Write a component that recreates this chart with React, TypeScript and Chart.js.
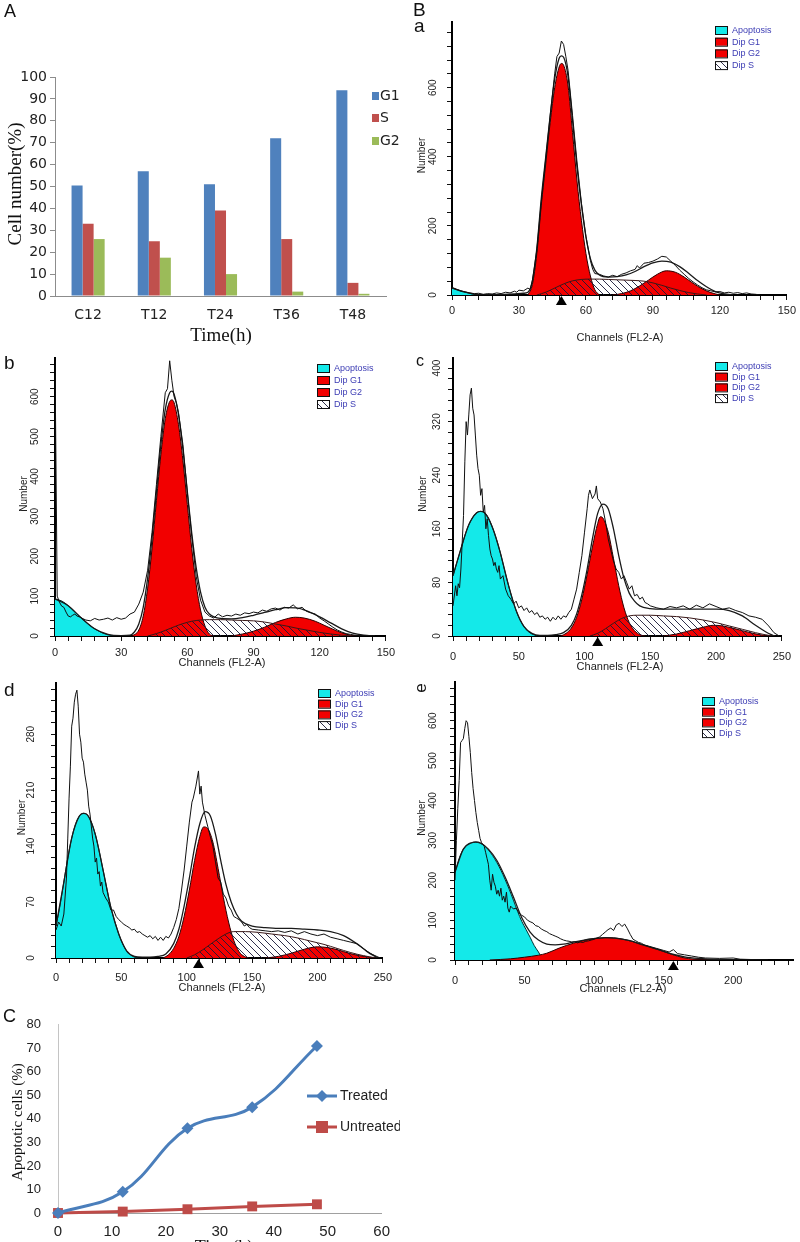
import React, { useEffect, useRef } from "react";
import { Chart, registerables } from "chart.js";

Chart.register(...registerables);
Chart.defaults.font.family = '"Liberation Sans", Arial, sans-serif';

type Pt = [number, number];

/* ---------------- Panel A : cell-cycle distribution ---------------- */
const cycleCategories = ["C12", "T12", "T24", "T36", "T48"];
const g1Percent = [50.5, 57, 51, 72, 94];
const sPercent = [33, 25, 39, 26, 6];
const g2Percent = [26, 17.5, 10, 2, 1];

/* ---------------- Panel C : apoptotic cells ---------------- */
const timeHours = [0, 12, 24, 36, 48];
const treatedApoptotic = [0, 9, 36, 45, 71];
const untreatedApoptotic = [0, 0.6, 1.6, 2.8, 3.7];

/* ---------------- Panel B histograms: [channel, number] ---------------- */
const aApoptosis: Pt[] = [[0, 20], [3, 14], [6, 8], [9, 3], [12, 0]];
const aDipG1: Pt[] = [[34, 0], [36, 30], [38, 120], [40, 260], [42, 380], [44, 500], [46, 600], [48, 660], [49, 670], [50, 665], [52, 605], [54, 470], [56, 330], [58, 215], [60, 120], [62, 55], [64, 15], [66, 0]];
const aDipG2: Pt[] = [[72, 0], [76, 4], [80, 12], [84, 26], [88, 43], [92, 60], [96, 70], [100, 66], [104, 52], [108, 34], [112, 18], [116, 7], [120, 0]];
const aDipS: Pt[] = [[38, 0], [42, 8], [46, 20], [50, 32], [54, 41], [58, 45], [62, 46], [66, 46], [70, 45], [74, 44], [78, 43], [82, 42], [86, 40], [90, 35], [94, 28], [98, 20], [102, 13], [106, 7], [110, 3], [114, 0]];
const aFit: Pt[] = [[0, 20], [6, 8], [12, 1], [20, 1], [28, 3], [32, 5], [34, 8], [36, 40], [38, 135], [40, 280], [42, 400], [44, 520], [46, 625], [48, 685], [49, 692], [50, 688], [52, 632], [54, 505], [56, 370], [58, 260], [60, 168], [62, 105], [64, 72], [66, 58], [70, 52], [74, 53], [78, 58], [82, 68], [86, 82], [90, 93], [94, 98], [98, 95], [102, 82], [106, 63], [110, 42], [114, 24], [118, 10], [122, 3], [126, 0]];
const aRaw: Pt[] = [[0, 22], [2, 17], [4, 12], [6, 9], [8, 6], [10, 4], [12, 5], [14, 2], [16, 4], [18, 3], [20, 6], [22, 4], [24, 8], [26, 6], [28, 11], [29, 8], [30, 14], [32, 12], [34, 20], [35, 16], [36, 42], [38, 130], [40, 270], [42, 395], [44, 520], [46, 640], [47, 690], [48, 700], [49, 735], [50, 725], [51, 690], [52, 650], [54, 520], [56, 385], [58, 265], [60, 170], [62, 100], [63, 75], [64, 62], [66, 60], [68, 55], [70, 52], [72, 57], [74, 53], [76, 60], [78, 64], [80, 70], [82, 74], [83, 85], [84, 78], [86, 92], [88, 94], [90, 98], [92, 104], [94, 112], [96, 110], [98, 98], [100, 86], [102, 72], [104, 60], [106, 48], [108, 38], [110, 29], [112, 21], [114, 15], [116, 12], [118, 9], [120, 10], [122, 6], [124, 8], [126, 5], [128, 7], [130, 4], [132, 6], [134, 3], [136, 2], [138, 0]];

const bApoptosis: Pt[] = [[0, 93], [3, 88], [6, 76], [9, 60], [12, 45], [15, 30], [18, 18], [21, 9], [24, 3], [27, 0]];
const bDipG1: Pt[] = [[35, 0], [38, 15], [40, 50], [42, 120], [44, 220], [46, 340], [48, 455], [50, 545], [52, 588], [53, 592], [54, 585], [56, 530], [58, 440], [60, 330], [62, 220], [64, 130], [66, 65], [68, 25], [70, 5], [72, 0]];
const bDipG2: Pt[] = [[80, 0], [85, 5], [90, 12], [95, 22], [100, 34], [105, 43], [109, 47], [113, 45], [118, 37], [122, 27], [126, 17], [130, 8], [134, 2], [137, 0]];
const bDipS: Pt[] = [[42, 0], [46, 6], [50, 14], [54, 23], [58, 31], [62, 37], [66, 40], [70, 41], [75, 41], [80, 40], [85, 39], [90, 38], [95, 35], [100, 30], [105, 25], [110, 19], [115, 14], [120, 9], [125, 5], [130, 2], [135, 0]];
const bFit: Pt[] = [[0, 93], [6, 76], [12, 45], [18, 18], [24, 4], [30, 1], [34, 2], [36, 10], [38, 30], [40, 72], [42, 145], [44, 245], [46, 362], [48, 478], [50, 568], [52, 610], [53, 614], [54, 606], [56, 555], [58, 468], [60, 362], [62, 258], [64, 172], [66, 110], [68, 72], [70, 55], [75, 44], [80, 43], [85, 46], [90, 52], [95, 59], [100, 66], [105, 71], [110, 70], [115, 61], [120, 48], [125, 33], [130, 18], [135, 7], [140, 2], [145, 0]];
const bRaw: Pt[] = [[0, 690], [1, 100], [2, 85], [3, 75], [4, 72], [5, 60], [6, 50], [7, 48], [8, 52], [9, 55], [10, 50], [11, 48], [12, 45], [14, 40], [16, 38], [18, 44], [20, 40], [22, 42], [24, 45], [26, 40], [28, 46], [30, 42], [32, 45], [34, 55], [36, 60], [38, 80], [40, 110], [42, 165], [44, 260], [46, 380], [48, 500], [50, 610], [51, 620], [52, 690], [53, 640], [54, 600], [55, 585], [56, 560], [58, 480], [60, 360], [62, 250], [64, 150], [66, 90], [68, 60], [70, 50], [72, 45], [74, 55], [76, 48], [78, 52], [80, 50], [82, 55], [84, 52], [86, 58], [88, 56], [90, 60], [92, 58], [94, 65], [96, 62], [98, 68], [100, 70], [102, 65], [104, 72], [106, 70], [108, 78], [110, 68], [112, 72], [114, 62], [116, 58], [118, 55], [120, 45], [122, 38], [124, 30], [126, 22], [128, 15], [130, 10], [132, 6], [134, 4], [136, 2], [140, 1], [145, 0]];

const cApoptosis: Pt[] = [[0, 90], [3, 110], [6, 130], [9, 150], [12, 166], [15, 177], [18, 184], [21, 186], [24, 184], [27, 176], [30, 162], [33, 145], [36, 124], [39, 100], [42, 77], [45, 56], [48, 38], [51, 24], [54, 14], [57, 7], [60, 3], [64, 0]];
const cDipG1: Pt[] = [[82, 0], [86, 4], [90, 12], [94, 28], [98, 55], [102, 92], [106, 133], [110, 168], [112, 178], [114, 176], [118, 155], [122, 116], [126, 75], [130, 42], [134, 20], [138, 8], [142, 2], [146, 0]];
const cDipG2: Pt[] = [[160, 0], [170, 3], [180, 8], [190, 13], [198, 16], [205, 15], [212, 12], [220, 8], [228, 4], [236, 1], [242, 0]];
const cDipS: Pt[] = [[104, 0], [110, 4], [116, 11], [122, 19], [128, 26], [134, 30], [140, 31], [150, 31], [160, 30], [170, 29], [180, 27], [190, 24], [200, 20], [210, 15], [220, 10], [230, 5], [240, 1], [245, 0]];
const cFit: Pt[] = [[0, 90], [6, 130], [12, 166], [18, 184], [21, 186], [24, 184], [30, 162], [36, 124], [42, 77], [48, 38], [54, 14], [60, 4], [66, 1], [72, 1], [78, 2], [84, 5], [90, 16], [94, 33], [98, 62], [102, 100], [106, 145], [110, 183], [114, 197], [118, 190], [122, 160], [126, 120], [130, 86], [134, 64], [138, 52], [142, 45], [150, 41], [160, 40], [170, 40], [180, 40], [190, 40], [200, 40], [210, 38], [220, 30], [230, 16], [238, 6], [244, 0]];
const cRaw: Pt[] = [[0, 45], [2, 75], [3, 60], [4, 78], [5, 72], [6, 100], [8, 180], [9, 260], [10, 320], [11, 300], [12, 330], [13, 360], [14, 370], [15, 340], [16, 330], [17, 300], [18, 270], [19, 250], [20, 240], [21, 210], [22, 220], [23, 185], [24, 195], [25, 160], [26, 175], [27, 150], [28, 130], [29, 120], [30, 115], [31, 105], [32, 110], [33, 100], [34, 95], [35, 105], [36, 85], [38, 90], [40, 70], [42, 60], [44, 55], [46, 48], [48, 52], [50, 42], [52, 45], [54, 38], [56, 42], [58, 35], [60, 38], [62, 32], [64, 35], [66, 28], [68, 30], [70, 25], [72, 28], [74, 22], [76, 28], [78, 24], [80, 30], [82, 25], [84, 30], [86, 28], [88, 35], [90, 40], [92, 55], [94, 70], [96, 95], [98, 120], [100, 155], [102, 190], [103, 210], [104, 218], [106, 205], [108, 212], [109, 224], [110, 205], [112, 200], [114, 190], [116, 170], [118, 145], [120, 128], [122, 112], [124, 100], [126, 95], [128, 85], [130, 90], [132, 80], [134, 70], [136, 75], [138, 60], [140, 62], [142, 55], [144, 58], [146, 50], [148, 48], [150, 45], [155, 42], [160, 40], [165, 44], [170, 42], [175, 45], [180, 40], [185, 46], [190, 42], [195, 48], [200, 44], [205, 40], [210, 42], [215, 38], [220, 35], [225, 30], [230, 28], [235, 25], [240, 15], [244, 5], [248, 0]];

const dApoptosis: Pt[] = [[0, 40], [3, 65], [6, 95], [9, 125], [12, 150], [15, 168], [18, 178], [21, 181], [24, 179], [27, 170], [30, 155], [33, 134], [36, 110], [39, 86], [42, 63], [45, 46], [48, 30], [51, 18], [54, 9], [57, 4], [60, 1], [63, 0]];
const dDipG1: Pt[] = [[82, 0], [86, 4], [90, 12], [94, 27], [98, 52], [102, 85], [106, 122], [110, 152], [113, 164], [116, 162], [120, 145], [124, 112], [128, 76], [132, 45], [136, 22], [140, 8], [144, 2], [148, 0]];
const dDipG2: Pt[] = [[160, 0], [170, 2], [180, 6], [190, 11], [200, 14], [208, 13], [216, 10], [224, 6], [232, 3], [240, 1], [244, 0]];
const dDipS: Pt[] = [[100, 0], [106, 4], [112, 10], [118, 17], [124, 24], [130, 30], [136, 33], [145, 33], [155, 32], [165, 30], [175, 28], [185, 25], [195, 21], [205, 17], [215, 12], [225, 7], [235, 3], [245, 0]];
const dFit: Pt[] = [[0, 40], [6, 95], [12, 150], [18, 178], [21, 181], [24, 179], [30, 155], [36, 110], [42, 63], [48, 30], [54, 9], [60, 2], [66, 1], [72, 1], [78, 2], [84, 5], [90, 18], [94, 36], [98, 65], [102, 100], [106, 138], [110, 168], [114, 183], [118, 178], [122, 155], [126, 122], [130, 92], [134, 70], [138, 55], [142, 46], [150, 40], [160, 38], [170, 37], [180, 37], [190, 36], [200, 35], [210, 33], [220, 28], [230, 18], [238, 8], [246, 0]];
const dRaw: Pt[] = [[0, 35], [2, 45], [4, 40], [6, 55], [8, 100], [9, 150], [10, 200], [11, 240], [12, 290], [13, 300], [14, 320], [15, 330], [16, 335], [17, 315], [18, 280], [19, 270], [20, 250], [21, 245], [22, 230], [23, 220], [24, 210], [25, 190], [26, 180], [27, 165], [28, 150], [29, 140], [30, 120], [31, 125], [32, 105], [33, 108], [34, 90], [35, 95], [36, 82], [38, 75], [40, 70], [42, 60], [44, 60], [46, 52], [48, 48], [50, 45], [52, 42], [54, 40], [56, 38], [58, 35], [60, 36], [62, 32], [64, 33], [66, 30], [68, 28], [70, 26], [72, 28], [74, 24], [76, 27], [78, 22], [80, 26], [82, 22], [84, 27], [86, 25], [88, 30], [90, 38], [92, 48], [94, 62], [96, 85], [98, 110], [100, 140], [102, 170], [104, 195], [105, 200], [107, 215], [109, 234], [110, 205], [111, 215], [112, 195], [114, 178], [116, 165], [118, 152], [120, 140], [122, 120], [124, 100], [126, 95], [128, 80], [130, 75], [132, 65], [134, 60], [136, 52], [138, 50], [140, 48], [142, 45], [144, 40], [146, 42], [148, 38], [150, 36], [155, 35], [160, 34], [165, 33], [170, 34], [175, 32], [180, 34], [185, 30], [190, 33], [195, 30], [200, 28], [205, 30], [210, 26], [215, 24], [220, 22], [225, 20], [230, 18], [235, 12], [240, 6], [244, 3], [248, 0]];

const eApoptosis: Pt[] = [[0, 220], [3, 255], [6, 278], [9, 290], [12, 294], [15, 295], [18, 293], [21, 287], [24, 276], [27, 262], [30, 245], [33, 225], [36, 202], [39, 177], [42, 150], [45, 122], [48, 97], [51, 77], [54, 57], [57, 36], [60, 20], [62, 8], [64, 0]];
const eDipG1: Pt[] = [[25, 0], [40, 3], [50, 7], [60, 12], [66, 17], [75, 30], [85, 42], [95, 51], [105, 55], [110, 56], [118, 54], [128, 46], [138, 35], [148, 24], [156, 14], [164, 6], [172, 2], [185, 0]];
const eDipG2: Pt[] = [];
const eDipS: Pt[] = [];
const eFit: Pt[] = [[0, 220], [6, 278], [12, 294], [15, 296], [18, 294], [24, 278], [30, 250], [36, 208], [42, 158], [48, 106], [54, 70], [60, 50], [66, 40], [72, 38], [78, 40], [84, 44], [90, 48], [96, 52], [102, 55], [108, 56], [115, 55], [125, 49], [135, 38], [145, 27], [155, 16], [165, 8], [175, 4], [190, 1], [205, 0]];
const eRaw: Pt[] = [[0, 200], [1, 300], [2, 380], [3, 450], [4, 545], [5, 550], [6, 555], [7, 580], [8, 600], [9, 595], [10, 560], [11, 520], [12, 470], [13, 430], [14, 400], [15, 370], [16, 345], [17, 325], [18, 305], [19, 295], [20, 290], [21, 285], [22, 270], [23, 255], [24, 240], [25, 200], [26, 175], [27, 215], [28, 195], [29, 185], [30, 165], [31, 175], [32, 160], [33, 180], [34, 150], [35, 160], [36, 145], [37, 170], [38, 130], [39, 120], [40, 135], [42, 128], [44, 130], [46, 118], [48, 112], [50, 108], [52, 100], [54, 96], [56, 93], [58, 86], [60, 84], [62, 78], [64, 74], [66, 71], [68, 66], [70, 63], [72, 60], [74, 57], [76, 53], [78, 50], [80, 48], [82, 47], [84, 45], [86, 46], [88, 43], [90, 45], [92, 44], [94, 47], [96, 48], [98, 50], [100, 52], [102, 55], [104, 58], [106, 64], [108, 70], [110, 76], [112, 80], [114, 74], [116, 88], [118, 92], [120, 84], [122, 90], [124, 78], [126, 64], [128, 52], [130, 48], [132, 44], [134, 42], [136, 38], [140, 34], [145, 29], [150, 24], [154, 20], [157, 26], [160, 16], [165, 13], [170, 10], [175, 7], [180, 5], [190, 4], [200, 5], [205, 2], [215, 1], [225, 0]];

const legendNames = ["Apoptosis", "Dip G1", "Dip G2", "Dip S"];

/* ---------------- styling ---------------- */
const CYAN = "#14e9e9";
const RED = "#f20000";
const LEGEND_TEXT = "#3c3cb4";
const SANS = '"Liberation Sans", Arial, sans-serif';
const WIDE = '"DejaVu Sans", "Liberation Sans", sans-serif';
const SERIF = '"Liberation Serif", "Times New Roman", serif';

type Box = { left: number; top: number; width: number; height: number };

function makeHatch(): any {
  const c = document.createElement("canvas");
  c.width = 7;
  c.height = 7;
  const g = c.getContext("2d");
  if (!g) return "rgba(0,0,0,0.2)";
  g.strokeStyle = "rgba(25,25,55,0.9)";
  g.lineWidth = 1;
  g.beginPath();
  g.moveTo(-1, -1);
  g.lineTo(8, 8);
  g.moveTo(-1, 6);
  g.lineTo(1, 8);
  g.moveTo(6, -1);
  g.lineTo(8, 1);
  g.stroke();
  return g.createPattern(c, "repeat") || "rgba(0,0,0,0.2)";
}

type HistSpec = {
  canvas: Box;
  area: { left: number; top: number; right: number; bottom: number };
  xMax: number; xStep: number; xMajor: number; xPad: number;
  yMax: number; yStep: number; yMajor: number;
  yLabelOff: number; numberOff: number;
  apop: Pt[]; g1: Pt[]; g2: Pt[]; s: Pt[]; fit: Pt[]; raw: Pt[];
  marker: number | null;
  legend: { x: number; y: number; dy: number };
  xTitle: { x: number; y: number };
  letters: { text: string; x: number; y: number; size: number; rotate?: boolean }[];
};

const histSpecs: HistSpec[] = [
  {
    canvas: { left: 400, top: 0, width: 400, height: 345 },
    area: { left: 452, top: 22, right: 787, bottom: 295 },
    xMax: 150, xStep: 6, xMajor: 30, xPad: 4,
    yMax: 790, yStep: 40, yMajor: 200, yLabelOff: 19, numberOff: 30,
    apop: aApoptosis, g1: aDipG1, g2: aDipG2, s: aDipS, fit: aFit, raw: aRaw,
    marker: 49,
    legend: { x: 715, y: 30, dy: 11.7 },
    xTitle: { x: 620, y: 338 },
    letters: [{ text: "B", x: 413, y: 11, size: 19 }, { text: "a", x: 414, y: 27, size: 19 }],
  },
  {
    canvas: { left: 0, top: 345, width: 400, height: 330 },
    area: { left: 55, top: 358, right: 387, bottom: 636 },
    xMax: 150, xStep: 6, xMajor: 30, xPad: 5,
    yMax: 697, yStep: 20, yMajor: 100, yLabelOff: 20, numberOff: 31,
    apop: bApoptosis, g1: bDipG1, g2: bDipG2, s: bDipS, fit: bFit, raw: bRaw,
    marker: null,
    legend: { x: 317, y: 368, dy: 12 },
    xTitle: { x: 222, y: 663 },
    letters: [{ text: "b", x: 4, y: 364, size: 19 }],
  },
  {
    canvas: { left: 400, top: 345, width: 400, height: 330 },
    area: { left: 453, top: 358, right: 786, bottom: 636 },
    xMax: 250, xStep: 10, xMajor: 50, xPad: 9,
    yMax: 415, yStep: 16, yMajor: 80, yLabelOff: 16, numberOff: 30,
    apop: cApoptosis, g1: cDipG1, g2: cDipG2, s: cDipS, fit: cFit, raw: cRaw,
    marker: 110,
    legend: { x: 715, y: 366, dy: 10.7 },
    xTitle: { x: 620, y: 667 },
    letters: [{ text: "c", x: 416, y: 362, size: 16 }],
  },
  {
    canvas: { left: 0, top: 675, width: 400, height: 325 },
    area: { left: 56, top: 683, right: 388, bottom: 958 },
    xMax: 250, xStep: 10, xMajor: 50, xPad: 8,
    yMax: 344, yStep: 14, yMajor: 70, yLabelOff: 25, numberOff: 34,
    apop: dApoptosis, g1: dDipG1, g2: dDipG2, s: dDipS, fit: dFit, raw: dRaw,
    marker: 109,
    legend: { x: 318, y: 693, dy: 10.7 },
    xTitle: { x: 222, y: 988 },
    letters: [{ text: "d", x: 4, y: 691, size: 19 }],
  },
  {
    canvas: { left: 400, top: 675, width: 400, height: 325 },
    area: { left: 455, top: 682, right: 793, bottom: 960 },
    xMax: 243, xStep: 10, xMajor: 50, xPad: 9,
    yMax: 697, yStep: 20, yMajor: 100, yLabelOff: 22, numberOff: 33,
    apop: eApoptosis, g1: eDipG1, g2: eDipG2, s: eDipS, fit: eFit, raw: eRaw,
    marker: 157,
    legend: { x: 702, y: 701, dy: 10.7 },
    xTitle: { x: 623, y: 989 },
    letters: [{ text: "e", x: 421, y: 688, size: 17, rotate: true }],
  },
];

function histDecor(spec: HistSpec, hatch: any) {
  const cv = spec.canvas;
  return {
    id: "histDecor",
    afterDraw(chart: any) {
      const ctx = chart.ctx;
      const ca = chart.chartArea;
      const ys = chart.scales.y;
      const xs = chart.scales.x;
      ctx.save();
      ctx.fillStyle = "#222";
      ctx.font = `10px ${SANS}`;
      ctx.textAlign = "center";
      ctx.textBaseline = "middle";
      ys.ticks
        .filter((t: any) => t.value % spec.yMajor === 0)
        .forEach((t: any) => {
          const py = ys.getPixelForValue(t.value);
          ctx.save();
          ctx.translate(ca.left - spec.yLabelOff, py);
          ctx.rotate(-Math.PI / 2);
          ctx.fillText(String(t.value), 0, 0);
          ctx.restore();
        });
      ctx.save();
      ctx.translate(ca.left - spec.numberOff, (ca.top + ca.bottom) / 2 - 3);
      ctx.rotate(-Math.PI / 2);
      ctx.fillText("Number", 0, 0);
      ctx.restore();
      ctx.font = `11px ${SANS}`;
      ctx.fillText("Channels (FL2-A)", spec.xTitle.x - cv.left, spec.xTitle.y - cv.top);
      if (spec.marker !== null) {
        const mx = xs.getPixelForValue(spec.marker);
        ctx.fillStyle = "#000";
        ctx.beginPath();
        ctx.moveTo(mx, ca.bottom + 1);
        ctx.lineTo(mx - 5.5, ca.bottom + 10);
        ctx.lineTo(mx + 5.5, ca.bottom + 10);
        ctx.closePath();
        ctx.fill();
      }
      const fills = [CYAN, RED, RED, "hatch"];
      legendNames.forEach((name, i) => {
        const bx = spec.legend.x - cv.left;
        const by = spec.legend.y - cv.top + i * spec.legend.dy;
        ctx.fillStyle = fills[i] === "hatch" ? "#fff" : fills[i];
        ctx.fillRect(bx, by - 4, 12, 8);
        if (fills[i] === "hatch") {
          ctx.fillStyle = hatch;
          ctx.fillRect(bx, by - 4, 12, 8);
        }
        ctx.strokeStyle = "#111";
        ctx.lineWidth = 1;
        ctx.strokeRect(bx + 0.5, by - 3.5, 12, 8);
        ctx.fillStyle = LEGEND_TEXT;
        ctx.font = `9px ${SANS}`;
        ctx.textAlign = "left";
        ctx.fillText(name, bx + 17, by + 0.5);
      });
      spec.letters.forEach((l) => {
        ctx.fillStyle = "#111";
        ctx.font = `${l.size}px ${SANS}`;
        ctx.textAlign = "left";
        ctx.textBaseline = "middle";
        if (l.rotate) {
          ctx.save();
          ctx.translate(l.x - cv.left, l.y - cv.top);
          ctx.rotate(-Math.PI / 2);
          ctx.textAlign = "center";
          ctx.fillText(l.text, 0, 0);
          ctx.restore();
        } else {
          ctx.fillText(l.text, l.x - cv.left, l.y - cv.top);
        }
      });
      ctx.restore();
    },
  };
}

function histConfig(spec: HistSpec): any {
  const cv = spec.canvas;
  const L = spec.area.left - cv.left;
  const R = spec.area.right - cv.left;
  const T = spec.area.top - cv.top;
  const B = spec.area.bottom - cv.top;
  const hatch = makeHatch();
  const xy = (a: Pt[]) => a.map(([x, y]) => ({ x, y }));
  const curve = (label: string, data: Pt[], extra: any) => ({
    label,
    data: xy(data),
    pointRadius: 0,
    borderWidth: 1,
    cubicInterpolationMode: "monotone",
    ...extra,
  });
  return {
    type: "line",
    data: {
      datasets: [
        curve("Data", spec.raw, { borderColor: "#111", fill: false, cubicInterpolationMode: "default", tension: 0, order: 1 }),
        curve("Fit", spec.fit, { borderColor: "#1a1a1a", borderWidth: 1.3, fill: false, order: 2 }),
        curve("Dip S", spec.s, { borderColor: "#3a1818", backgroundColor: hatch, fill: "origin", order: 3 }),
        curve("Dip G2", spec.g2, { borderColor: "#2a0000", backgroundColor: RED, fill: "origin", order: 4 }),
        curve("Dip G1", spec.g1, { borderColor: "#2a0000", backgroundColor: RED, fill: "origin", order: 5 }),
        curve("Apoptosis", spec.apop, { borderColor: "#003030", backgroundColor: CYAN, fill: "origin", order: 6 }),
      ],
    },
    options: {
      responsive: false,
      animation: false,
      events: [],
      layout: { padding: { left: 0, top: T, right: cv.width - R, bottom: 0 } },
      plugins: { legend: { display: false }, tooltip: { enabled: false } },
      scales: {
        x: {
          type: "linear",
          min: 0,
          max: spec.xMax,
          afterFit: (s: any) => { s.height = cv.height - B; },
          ticks: {
            stepSize: spec.xStep,
            autoSkip: false,
            includeBounds: false,
            maxRotation: 0,
            minRotation: 0,
            padding: spec.xPad,
            color: "#222",
            font: { size: 11 },
            callback: (v: any) => (Number(v) % spec.xMajor === 0 ? String(v) : ""),
          },
          grid: { display: true, drawOnChartArea: false, drawTicks: true, tickLength: 5, color: "#111", lineWidth: 1 },
          border: { display: true, color: "#000", width: 2 },
        },
        y: {
          type: "linear",
          min: 0,
          max: spec.yMax,
          afterFit: (s: any) => { s.width = L; },
          ticks: { stepSize: spec.yStep, display: false, includeBounds: false, autoSkip: false },
          grid: { display: true, drawOnChartArea: false, drawTicks: true, tickLength: 5, color: "#111", lineWidth: 1 },
          border: { display: true, color: "#000", width: 2 },
        },
      },
    },
    plugins: [histDecor(spec, hatch)],
  };
}

/* ---------------- Panel A config ---------------- */
const boxA: Box = { left: 0, top: 0, width: 400, height: 345 };
function barConfig(): any {
  const areaBottom = 296;
  const decor = {
    id: "barDecor",
    afterDraw(chart: any) {
      const ctx = chart.ctx;
      ctx.save();
      ctx.fillStyle = "#111";
      ctx.font = `18px ${SANS}`;
      ctx.textAlign = "left";
      ctx.textBaseline = "middle";
      ctx.fillText("A", 4, 12);
      const items: [string, string, number][] = [
        ["G1", "#4f81bd", 96],
        ["S", "#c0504d", 118],
        ["G2", "#9bbb59", 141],
      ];
      ctx.font = `14px ${WIDE}`;
      items.forEach(([t, c, y]) => {
        ctx.fillStyle = c;
        ctx.fillRect(372, y - 4, 7, 8);
        ctx.fillStyle = "#222";
        ctx.fillText(t, 380, y);
      });
      ctx.fillStyle = "#111";
      ctx.font = `19px ${SERIF}`;
      ctx.textAlign = "center";
      ctx.fillText("Time(h)", 221, 336);
      ctx.translate(16, 184);
      ctx.rotate(-Math.PI / 2);
      ctx.fillText("Cell number(%)", 0, 0);
      ctx.restore();
    },
  };
  return {
    type: "bar",
    data: {
      labels: cycleCategories,
      datasets: [
        { label: "G1", data: g1Percent, backgroundColor: "#4f81bd", categoryPercentage: 0.5, barPercentage: 1 },
        { label: "S", data: sPercent, backgroundColor: "#c0504d", categoryPercentage: 0.5, barPercentage: 1 },
        { label: "G2", data: g2Percent, backgroundColor: "#9bbb59", categoryPercentage: 0.5, barPercentage: 1 },
      ],
    },
    options: {
      responsive: false,
      animation: false,
      events: [],
      layout: { padding: { left: 0, top: 77, right: boxA.width - 386, bottom: 0 } },
      plugins: { legend: { display: false }, tooltip: { enabled: false } },
      scales: {
        x: {
          afterFit: (s: any) => { s.height = boxA.height - areaBottom; },
          ticks: { color: "#222", font: { size: 14, family: WIDE }, padding: 11 },
          grid: { display: false, drawTicks: false },
          border: { display: true, color: "#8c8c8c", width: 1 },
        },
        y: {
          min: 0,
          max: 100,
          afterFit: (s: any) => { s.width = 55; },
          ticks: { stepSize: 10, color: "#222", font: { size: 14, family: WIDE }, padding: 3 },
          grid: { display: true, drawOnChartArea: false, drawTicks: true, tickLength: 5, color: "#8c8c8c" },
          border: { display: true, color: "#8c8c8c", width: 1 },
        },
      },
    },
    plugins: [decor],
  };
}

/* ---------------- Panel C config ---------------- */
const boxC: Box = { left: 0, top: 1000, width: 400, height: 242 };
function lineConfig(): any {
  const areaBottom = 1213 - boxC.top;
  const decor = {
    id: "lineDecor",
    afterDraw(chart: any) {
      const ctx = chart.ctx;
      ctx.save();
      ctx.fillStyle = "#111";
      ctx.font = `18px ${SANS}`;
      ctx.textAlign = "left";
      ctx.textBaseline = "middle";
      ctx.fillText("C", 3, 17);
      const ly1 = 1096 - boxC.top;
      const ly2 = 1127 - boxC.top;
      ctx.lineWidth = 3;
      ctx.strokeStyle = "#4a7ebb";
      ctx.beginPath();
      ctx.moveTo(307, ly1);
      ctx.lineTo(337, ly1);
      ctx.stroke();
      ctx.fillStyle = "#4a7ebb";
      ctx.beginPath();
      ctx.moveTo(322, ly1 - 6);
      ctx.lineTo(328, ly1);
      ctx.lineTo(322, ly1 + 6);
      ctx.lineTo(316, ly1);
      ctx.closePath();
      ctx.fill();
      ctx.strokeStyle = "#be4b48";
      ctx.beginPath();
      ctx.moveTo(307, ly2);
      ctx.lineTo(337, ly2);
      ctx.stroke();
      ctx.fillStyle = "#be4b48";
      ctx.fillRect(316, ly2 - 6, 12, 12);
      ctx.fillStyle = "#222";
      ctx.font = `14px ${SANS}`;
      ctx.fillText("Treated", 340, ly1);
      ctx.fillText("Untreated", 340, ly2);
      ctx.fillStyle = "#111";
      ctx.font = `15px ${SERIF}`;
      ctx.textAlign = "center";
      ctx.save();
      ctx.translate(18, 1122 - boxC.top);
      ctx.rotate(-Math.PI / 2);
      ctx.fillText("Apoptotic cells (%)", 0, 0);
      ctx.restore();
      ctx.font = `18px ${SERIF}`;
      ctx.textBaseline = "top";
      ctx.fillText("Time(h)", 224, 1239 - boxC.top);
      ctx.restore();
    },
  };
  const pts = (vals: number[]) => timeHours.map((t, i) => ({ x: t, y: vals[i] }));
  return {
    type: "line",
    data: {
      datasets: [
        {
          label: "Treated",
          data: pts(treatedApoptotic),
          borderColor: "#4a7ebb",
          backgroundColor: "#4a7ebb",
          borderWidth: 3,
          tension: 0.4,
          pointStyle: "rectRot",
          pointRadius: 6,
          pointBorderWidth: 0,
        },
        {
          label: "Untreated",
          data: pts(untreatedApoptotic),
          borderColor: "#be4b48",
          backgroundColor: "#be4b48",
          borderWidth: 3,
          tension: 0,
          pointStyle: "rect",
          pointRadius: 7,
          pointBorderWidth: 0,
        },
      ],
    },
    options: {
      responsive: false,
      animation: false,
      events: [],
      clip: false,
      layout: { padding: { left: 0, top: 1014 - boxC.top, right: boxC.width - 390, bottom: 0 } },
      plugins: { legend: { display: false }, tooltip: { enabled: false } },
      scales: {
        x: {
          type: "linear",
          min: 0,
          max: 60,
          afterFit: (s: any) => { s.height = boxC.height - areaBottom; },
          ticks: { stepSize: 10, color: "#222", font: { size: 15 }, padding: 10 },
          grid: { display: false, drawTicks: false },
          border: { display: true, color: "#a0a0a0", width: 1 },
        },
        y: {
          min: 0,
          max: 80,
          afterFit: (s: any) => { s.width = 58; },
          ticks: { stepSize: 10, color: "#222", font: { size: 13 }, padding: 17 },
          grid: { display: false, drawTicks: false },
          border: { display: true, color: "#c4c4c4", width: 1 },
        },
      },
    },
    plugins: [decor],
  };
}

function ChartCanvas({ box, make }: { box: Box; make: () => any }) {
  const ref = useRef<HTMLCanvasElement>(null);
  useEffect(() => {
    if (!ref.current) return;
    const chart = new Chart(ref.current, make());
    return () => chart.destroy();
  }, []);
  return (
    <div style={{ position: "absolute", left: box.left, top: box.top, width: box.width, height: box.height }}>
      <canvas ref={ref} width={box.width} height={box.height} style={{ display: "block", width: box.width, height: box.height }} />
    </div>
  );
}

export default function App() {
  return (
    <div style={{ position: "absolute", left: 0, top: 0, width: 800, height: 1242, background: "#fff", overflow: "hidden" }}>
      <ChartCanvas box={boxA} make={barConfig} />
      {histSpecs.map((spec, i) => (
        <ChartCanvas key={i} box={spec.canvas} make={() => histConfig(spec)} />
      ))}
      <ChartCanvas box={boxC} make={lineConfig} />
    </div>
  );
}
